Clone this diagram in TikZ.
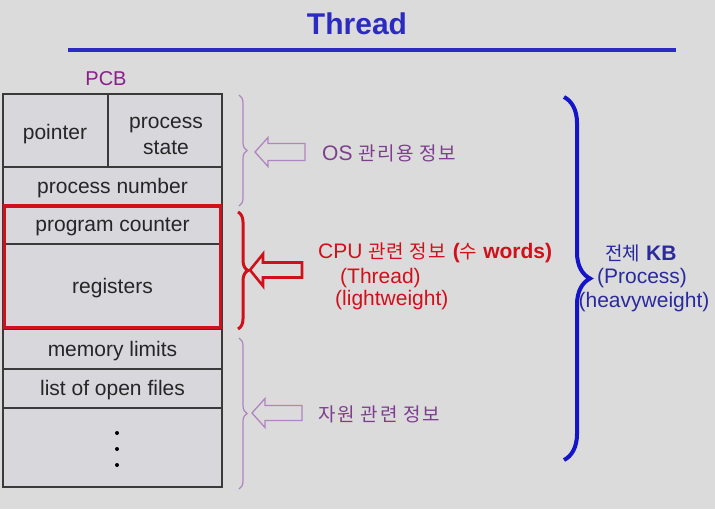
\documentclass[tikz,border=0pt]{standalone}
\usepackage{fontspec}
\setmainfont{Liberation Sans}
\newfontfamily\kr{Noto Sans CJK KR}
\usetikzlibrary{decorations.pathreplacing}
\definecolor{bgc}{HTML}{DBDBDB}
\definecolor{cellc}{HTML}{D7D7DC}
\definecolor{linec}{HTML}{3A3A3A}
\definecolor{titleblue}{HTML}{2B2BC4}
\definecolor{braceblue}{HTML}{1414C8}
\definecolor{textblue}{HTML}{2A2A9E}
\definecolor{redc}{HTML}{D0101A}
\definecolor{purplel}{HTML}{B084C0}
\definecolor{purplet}{HTML}{7E3E8E}
\definecolor{pcbc}{HTML}{8A1E8A}
\begin{document}
\begin{tikzpicture}[x=1pt,y=-1pt,
  cell/.style={draw=linec, line width=1.3pt, fill=cellc, inner sep=0pt, font=\fontsize{21}{26}\selectfont, text=black!85, align=center, text height=14pt, text depth=0pt},
  celltxt/.style={inner sep=0pt, anchor=base, font=\fontsize{21}{26}\selectfont, text=black!85},
  lbl/.style={inner sep=0pt, anchor=west, font=\fontsize{21}{26}\selectfont},
  brc/.style={decorate, decoration={brace, amplitude=#1}},
  hollow/.style={line join=miter}
]
\fill[bgc] (0,0) rectangle (715,509);
\useasboundingbox (0,0) rectangle (715,509);

% title
\node[inner sep=0pt, text=titleblue, font=\fontsize{30}{34}\bfseries\selectfont] (title) at (357,24) {Thread};
\coordinate (tl) at (68,50);
\coordinate (tr) at (676,50);
\draw[titleblue, line width=4pt] (tl) -- (tr);

% PCB
\node[inner sep=0pt, text=pcbc, font=\fontsize{20}{24}\selectfont] (pcb) at (106,79) {PCB};

% table cells
\node[cell, minimum width=105pt, minimum height=73pt] (ptr) at (55.5,130.5) {};
\node[celltxt] (ptrt) at (55,139) {pointer};
\node[cell, minimum width=114pt, minimum height=73pt] (pst) at (165,130.5) {};
\node[celltxt] (pst1) at (166,128) {process};
\node[celltxt] (pst2) at (166,154) {state};
\node[cell, minimum width=219pt, minimum height=38pt] (pnum) at (112.5,186) {process number};
\node[cell, minimum width=219pt, minimum height=39pt] (pc) at (112.5,224.5) {program counter};
\node[cell, minimum width=219pt, minimum height=85pt] (reg) at (112.5,286.5) {registers};
\node[cell, minimum width=219pt, minimum height=40pt] (mem) at (112.5,349) {memory limits};
\node[cell, minimum width=219pt, minimum height=39pt] (files) at (112.5,388.5) {list of open files};
\node[cell, minimum width=219pt, minimum height=79pt] (dots) at (112.5,447.5) {};
\fill[black] (117,433) circle (2pt) (117,449) circle (2pt) (117,465) circle (2pt);

% red box around CPU part
\draw[redc, line width=3.5pt] (4.5,206) rectangle (220.5,327.5);

% braces
\draw[purplel, line width=1.2pt, brc=8pt] (239,95) -- (239,206);
\draw[redc, line width=3pt, brc=10pt] (238,212) -- (238,329);
\draw[purplel, line width=1.2pt, brc=8pt] (239,338) -- (239,489);
\draw[braceblue, line width=4pt, brc=26pt] (564,97) -- (564,460);

% hollow arrows
\draw[purplel, line width=1.3pt, hollow] (255,152) -- (268,137.5) -- (268,143.5) -- (305,143.5) -- (305,160.5) -- (268,160.5) -- (268,166.5) -- cycle;
\draw[redc, line width=2.6pt, hollow] (250,270) -- (263,254) -- (263,262.5) -- (302,262.5) -- (302,277.5) -- (263,277.5) -- (263,286) -- cycle;
\draw[purplel, line width=1.3pt, hollow] (252,413) -- (265,398.5) -- (265,405.5) -- (302,405.5) -- (302,420.5) -- (265,420.5) -- (265,427.5) -- cycle;

% labels
\node[lbl, text=purplet] (os) at (322,153) {OS {\kr\fontsize{19}{24}\selectfont\addfontfeature{LetterSpace=8} 관리용 정보}};
\node[lbl, text=redc] (cpu) at (318,253) {CPU {\kr\fontsize{19}{24}\selectfont\addfontfeature{LetterSpace=6} 관련 정보} \textbf{(}{\kr\fontsize{19}{24}\selectfont 수}\textbf{ words)}};
\node[lbl, text=redc] (thr) at (340,278) {(Thread)};
\node[lbl, text=redc] (lw) at (335,300) {(lightweight)};
\node[lbl, text=purplet, font=\kr\fontsize{19}{24}\selectfont\addfontfeature{LetterSpace=9}] (res) at (318,414) {자원 관련 정보};
\node[inner sep=0pt, text=textblue, font=\fontsize{21}{26}\selectfont] (kb) at (641,253) {{\kr\fontsize{19}{24}\selectfont 전체} \textbf{KB}};
\node[inner sep=0pt, text=textblue, font=\fontsize{21}{26}\selectfont] (proc) at (642,278) {(Process)};
\node[inner sep=0pt, text=textblue, font=\fontsize{21}{26}\selectfont] (hw) at (644,302) {(heavyweight)};
\end{tikzpicture}
\end{document}
